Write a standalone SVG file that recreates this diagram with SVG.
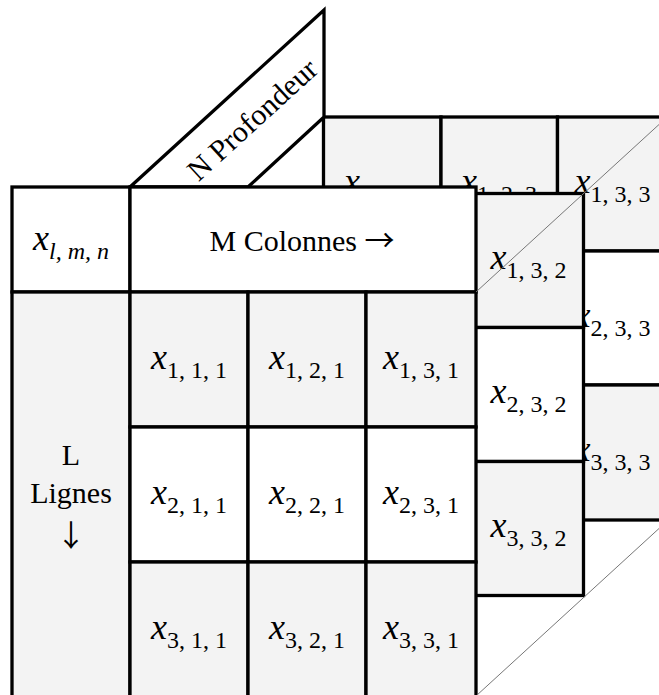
<svg xmlns="http://www.w3.org/2000/svg" width="659" height="695" viewBox="0 0 659 695">
<style>
  .c{stroke:#000;stroke-width:3.3;}
  .g{fill:#f3f3f3;}
  .w{fill:#fff;}
  .t{font-family:"Liberation Serif","Times New Roman",serif;fill:#000;text-anchor:middle;}
  .lab{font-size:30px;}
  .arr{font-family:"Noto Sans CJK JP",sans-serif;font-size:30px;}
  .x{font-size:36px;font-style:italic;}
  .s{font-size:24px;}
  .si{font-size:24px;font-style:italic;}
  .diag{stroke:#777;stroke-width:1;fill:none;}
</style>
<rect x="0" y="0" width="659" height="695" fill="#fff"/>

<!-- Layer 3 (n = 3) -->
<g id="layer3">
  <g id="c113"><rect class="c g" x="323.5" y="117" width="117.5" height="134"/><text class="t" x="382" y="192.5"><tspan class="x">x</tspan><tspan class="s" dy="9">1, 1, 3</tspan></text></g>
  <g id="c123"><rect class="c g" x="441" y="117" width="116.5" height="134"/><text class="t" x="499" y="192.5"><tspan class="x">x</tspan><tspan class="s" dy="9">1, 2, 3</tspan></text></g>
  <g id="c133"><rect class="c g" x="557.5" y="117" width="110" height="134"/><text class="t" x="612.5" y="192.5"><tspan class="x">x</tspan><tspan class="s" dy="9">1, 3, 3</tspan></text></g>
  <g id="c233"><rect class="c w" x="557.5" y="251" width="110" height="134"/><text class="t" x="612.5" y="326.5"><tspan class="x">x</tspan><tspan class="s" dy="9">2, 3, 3</tspan></text></g>
  <g id="c333"><rect class="c g" x="557.5" y="385" width="110" height="135"/><text class="t" x="612.5" y="461"><tspan class="x">x</tspan><tspan class="s" dy="9">3, 3, 3</tspan></text></g>
</g>

<!-- Depth header -->
<g id="depth-header">
  <polygon class="c w" points="130,187 324,10 324,117 248,187"/>
  <text class="t lab" x="259" y="127" transform="rotate(-42.4 259 127)" font-size="29">N Profondeur</text>
</g>

<!-- Layer 2 (n = 2) -->
<g id="layer2">
  <g id="c132"><rect class="c g" x="473.5" y="193.5" width="110" height="134"/><text class="t" x="528.5" y="269"><tspan class="x">x</tspan><tspan class="s" dy="9">1, 3, 2</tspan></text></g>
  <g id="c232"><rect class="c w" x="473.5" y="327.5" width="110" height="134"/><text class="t" x="528.5" y="403"><tspan class="x">x</tspan><tspan class="s" dy="9">2, 3, 2</tspan></text></g>
  <g id="c332"><rect class="c g" x="473.5" y="461.5" width="110" height="134"/><text class="t" x="528.5" y="537"><tspan class="x">x</tspan><tspan class="s" dy="9">3, 3, 2</tspan></text></g>
</g>

<!-- Front layer (n = 1) -->
<g id="front">
  <g id="corner"><rect class="c w" x="12" y="187" width="118" height="105"/><text class="t" x="71" y="249.5"><tspan class="x">x</tspan><tspan class="si" dy="9">l, m, n</tspan></text></g>
  <g id="cols-header"><rect class="c w" x="130" y="187" width="346" height="105"/><text class="t lab" x="302" y="251">M Colonnes <tspan class="arr">→</tspan></text></g>
  <g id="rows-header"><rect class="c g" x="12" y="292" width="118" height="405"/>
    <text class="t lab" x="71" y="465">L</text>
    <text class="t lab" x="71" y="503">Lignes</text>
    <text class="t arr" x="71" y="546">↓</text>
  </g>
  <g id="c111"><rect class="c g" x="130" y="292" width="118" height="135"/><text class="t" x="189" y="368.5"><tspan class="x">x</tspan><tspan class="s" dy="9">1, 1, 1</tspan></text></g>
  <g id="c121"><rect class="c g" x="248" y="292" width="118" height="135"/><text class="t" x="307" y="368.5"><tspan class="x">x</tspan><tspan class="s" dy="9">1, 2, 1</tspan></text></g>
  <g id="c131"><rect class="c g" x="366" y="292" width="110" height="135"/><text class="t" x="421" y="368.5"><tspan class="x">x</tspan><tspan class="s" dy="9">1, 3, 1</tspan></text></g>
  <g id="c211"><rect class="c w" x="130" y="427" width="118" height="135"/><text class="t" x="189" y="503.5"><tspan class="x">x</tspan><tspan class="s" dy="9">2, 1, 1</tspan></text></g>
  <g id="c221"><rect class="c w" x="248" y="427" width="118" height="135"/><text class="t" x="307" y="503.5"><tspan class="x">x</tspan><tspan class="s" dy="9">2, 2, 1</tspan></text></g>
  <g id="c231"><rect class="c w" x="366" y="427" width="110" height="135"/><text class="t" x="421" y="503.5"><tspan class="x">x</tspan><tspan class="s" dy="9">2, 3, 1</tspan></text></g>
  <g id="c311"><rect class="c g" x="130" y="562" width="118" height="135"/><text class="t" x="189" y="638.5"><tspan class="x">x</tspan><tspan class="s" dy="9">3, 1, 1</tspan></text></g>
  <g id="c321"><rect class="c g" x="248" y="562" width="118" height="135"/><text class="t" x="307" y="638.5"><tspan class="x">x</tspan><tspan class="s" dy="9">3, 2, 1</tspan></text></g>
  <g id="c331"><rect class="c g" x="366" y="562" width="110" height="135"/><text class="t" x="421" y="638.5"><tspan class="x">x</tspan><tspan class="s" dy="9">3, 3, 1</tspan></text></g>
</g>

<!-- Connectors: depth diagonals -->
<g id="connectors">
  <line class="diag" x1="476" y1="292" x2="659" y2="124.5"/>
  <line class="diag" x1="476" y1="696" x2="659" y2="528.5"/>
</g>
</svg>
